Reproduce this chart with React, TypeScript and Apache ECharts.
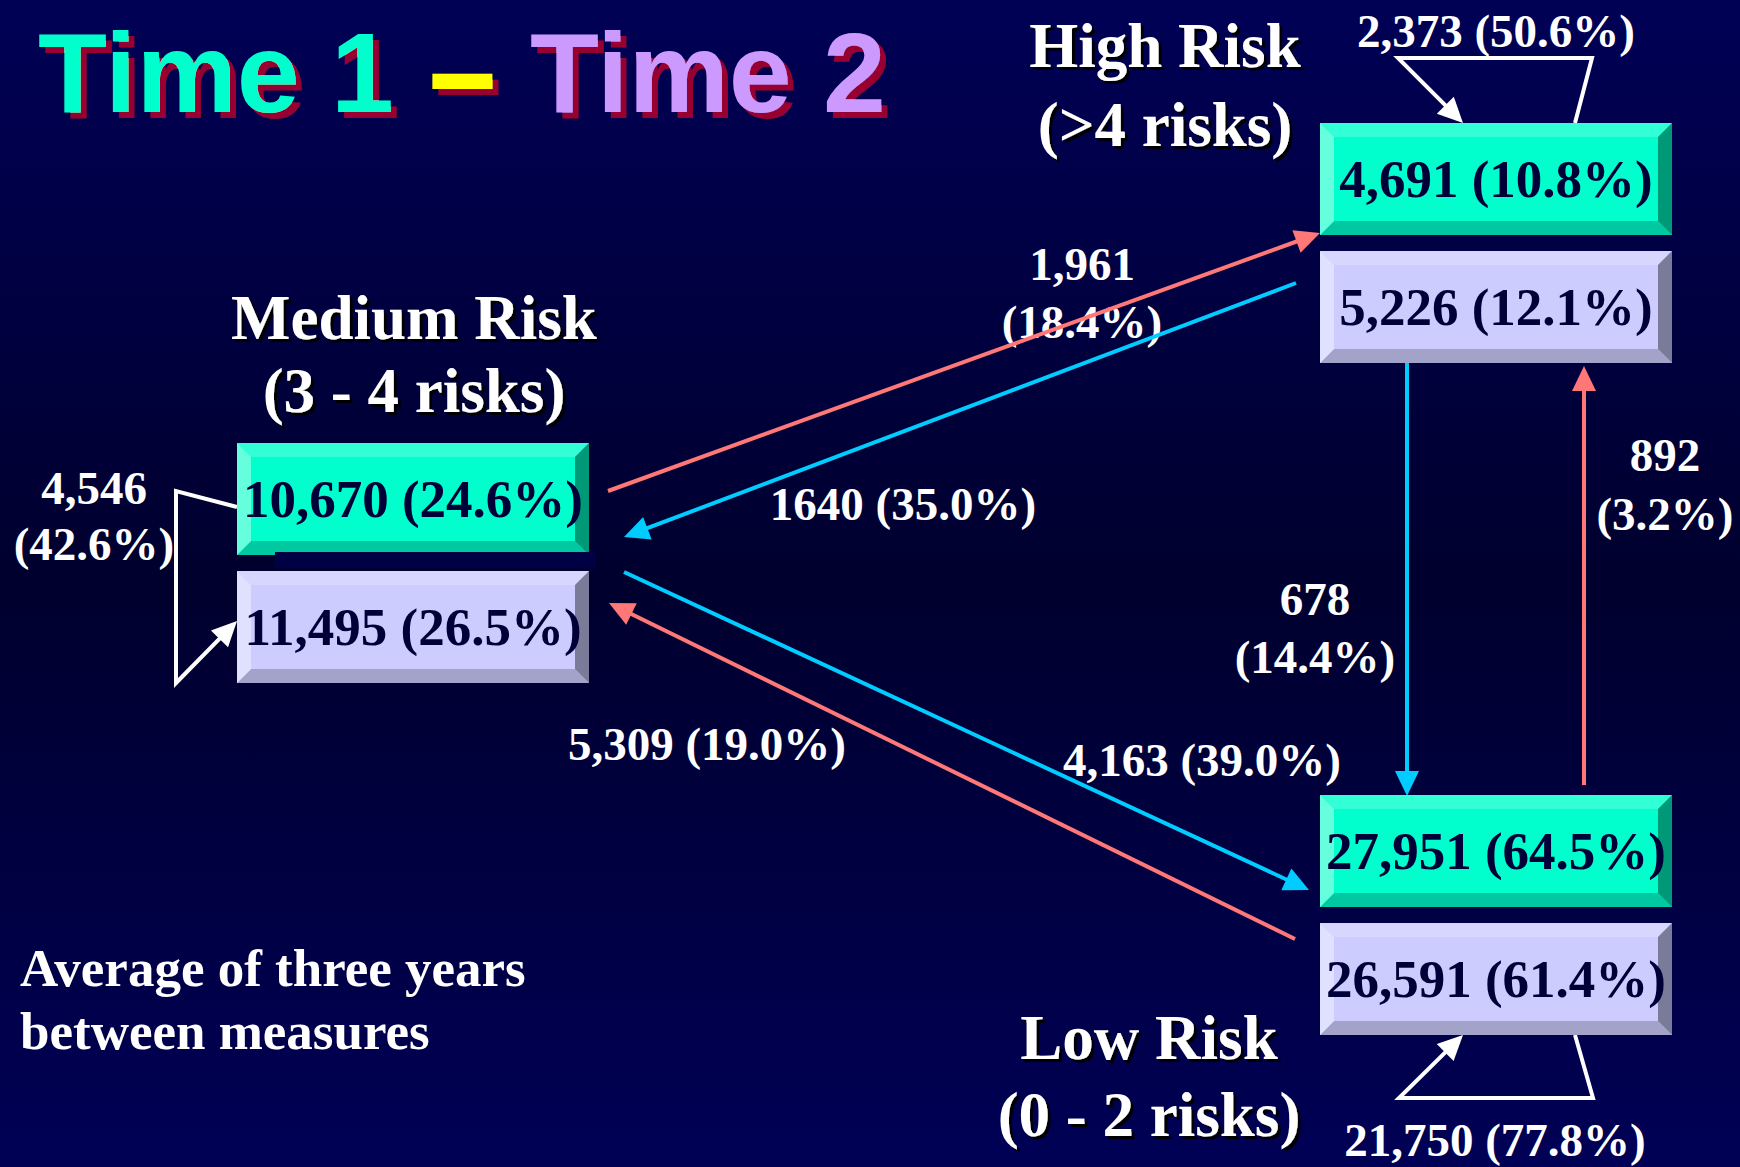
import React, { useEffect, useRef } from "react";
import * as echarts from "echarts";

const W = 1740;
const H = 1167;

// ---- data ----
const titleParts = ["Time 1", "–", "Time 2"];
const riskLevels = ["High Risk", "Medium Risk", "Low Risk"];
const riskRanges = ["(>4 risks)", "(3 - 4 risks)", "(0 - 2 risks)"];
const time1Counts = ["4,691 (10.8%)", "10,670 (24.6%)", "27,951 (64.5%)"];
const time2Counts = ["5,226 (12.1%)", "11,495 (26.5%)", "26,591 (61.4%)"];
const stayCounts = ["2,373", "4,546", "21,750"];
const stayPcts = ["(50.6%)", "(42.6%)", "(77.8%)"];
// transitions: med->high, high->med, med->low, low->med, high->low, low->high
const flowCounts = ["1,961", "1640", "4,163", "5,309", "678", "892"];
const flowPcts = ["(18.4%)", "(35.0%)", "(39.0%)", "(19.0%)", "(14.4%)", "(3.2%)"];
const noteLines = ["Average of three years", "between measures"];

const SERIF = '"Liberation Serif", "Times New Roman", serif';
const SANS = '"Liberation Sans", Arial, sans-serif';

const GREEN = { face: "#00FFCC", top: "#33FFD6", left: "#66FFDD", bottom: "#00C8A0", right: "#009977" };
const LAV = { face: "#CCCCFF", top: "#D6D6FF", left: "#E0E0FF", bottom: "#A3A3CA", right: "#7A7A99" };
const SALMON = "#FF7777";
const CYAN = "#00CCFF";
const WHITE = "#FFFFFF";

function bevelBox(x: number, y: number, w: number, h: number, b: number, c: any) {
  return [
    { type: "rect", shape: { x, y, width: w, height: h }, style: { fill: c.face } },
    { type: "polygon", shape: { points: [[x, y], [x + w, y], [x + w - b, y + b], [x + b, y + b]] }, style: { fill: c.top } },
    { type: "polygon", shape: { points: [[x, y + h], [x + w, y + h], [x + w - b, y + h - b], [x + b, y + h - b]] }, style: { fill: c.bottom } },
    { type: "polygon", shape: { points: [[x, y], [x + b, y + b], [x + b, y + h - b], [x, y + h]] }, style: { fill: c.left } },
    { type: "polygon", shape: { points: [[x + w, y], [x + w - b, y + b], [x + w - b, y + h - b], [x + w, y + h]] }, style: { fill: c.right } },
  ];
}

function arrow(pts: number[][], color: string, lw = 4, hl = 25, hw = 24) {
  const n = pts.length;
  const [px, py] = pts[n - 2];
  const [tx, ty] = pts[n - 1];
  const dx = tx - px, dy = ty - py;
  const len = Math.hypot(dx, dy);
  const ux = dx / len, uy = dy / len;
  const bx = tx - ux * hl, by = ty - uy * hl;
  const nx = -uy, ny = ux;
  const linePts = pts.slice(0, n - 1).concat([[bx + ux * 3, by + uy * 3]]);
  return [
    { type: "polyline", shape: { points: linePts }, style: { stroke: color, lineWidth: lw, fill: "none", lineJoin: "miter" } },
    {
      type: "polygon",
      shape: { points: [[tx, ty], [bx + (nx * hw) / 2, by + (ny * hw) / 2], [bx - (nx * hw) / 2, by - (ny * hw) / 2]] },
      style: { fill: color },
    },
  ];
}

function txt(text: string, x: number, y: number, size: number, opts: any = {}) {
  return {
    type: "text",
    x,
    y,
    style: {
      text,
      fill: opts.fill || WHITE,
      font: `bold ${size}px ${opts.family || SERIF}`,
      align: opts.align || "center",
      verticalAlign: "middle",
      ...(opts.border ? { stroke: opts.fill, lineWidth: opts.border, lineJoin: "miter" } : {}),
      ...(opts.shadow
        ? {
            textShadowColor: opts.shadow,
            textShadowOffsetX: opts.sx ?? 3,
            textShadowOffsetY: opts.sy ?? 3,
            textShadowBlur: opts.blur ?? 1,
          }
        : {}),
    },
  };
}

export default function App() {
  const ref = useRef<HTMLDivElement>(null);
  useEffect(() => {
    if (!ref.current) return;
    const chart = echarts.init(ref.current, null, { renderer: "svg", width: W, height: H });

    const boxX = [1320, 237, 1320];
    const boxY1 = [123, 443, 795];
    const boxY2 = [251, 571, 923];
    const BW = 352, BH = 112, BV = 14;

    const els: any[] = [];
    // background
    els.push({
      type: "rect",
      shape: { x: 0, y: 0, width: W, height: H },
      style: {
        fill: new echarts.graphic.LinearGradient(0, 0, 0, 1, [
          { offset: 0, color: "#000056" },
          { offset: 0.5, color: "#00002E" },
          { offset: 1, color: "#000056" },
        ]),
      },
    });

    // title
    const tShadow = { shadow: "#990033", sx: 6, sy: 6, blur: 1, family: SANS, align: "left" };
    els.push(txt(titleParts[0], 38, 73, 113, { ...tShadow, fill: "#00FFCC" }));
    els.push(txt(titleParts[1], 431, 73, 113, { ...tShadow, fill: "#FFFF00", border: 4 }));
    els.push(txt(titleParts[2], 530, 73, 113, { ...tShadow, fill: "#CC99FF" }));

    // risk labels
    const lvlPos = [[1165, 46, 125], [414, 318, 391], [1149, 1038, 1115]];
    for (let i = 0; i < 3; i++) {
      const [x, y1, y2] = lvlPos[i];
      els.push(txt(riskLevels[i], x, y1, 63, { shadow: "rgba(0,0,0,0.95)", sx: 3, sy: 3 }));
      els.push(txt(riskRanges[i], x, y2, 63, { shadow: "rgba(0,0,0,0.95)", sx: 3, sy: 3 }));
    }

    // note
    els.push(txt(noteLines[0], 20, 968, 53, { align: "left" }));
    els.push(txt(noteLines[1], 20, 1031, 53, { align: "left" }));

    // flow labels
    els.push(txt(`${stayCounts[0]} ${stayPcts[0]}`, 1496, 31, 47));
    els.push(txt(stayCounts[1], 94, 488, 47));
    els.push(txt(stayPcts[1], 94, 544, 47));
    els.push(txt(`${stayCounts[2]} ${stayPcts[2]}`, 1495, 1140, 47));
    els.push(txt(flowCounts[0], 1082, 264, 47));
    els.push(txt(flowPcts[0], 1082, 322, 47));
    els.push(txt(`${flowCounts[1]} ${flowPcts[1]}`, 903, 504, 47));
    els.push(txt(`${flowCounts[2]} ${flowPcts[2]}`, 1202, 760, 47));
    els.push(txt(`${flowCounts[3]} ${flowPcts[3]}`, 707, 744, 47));
    els.push(txt(flowCounts[4], 1315, 599, 47));
    els.push(txt(flowPcts[4], 1315, 657, 47));
    els.push(txt(flowCounts[5], 1665, 455, 47));
    els.push(txt(flowPcts[5], 1665, 514, 47));

    // arrows
    els.push(...arrow([[608, 491], [1320, 233]], SALMON));
    els.push(...arrow([[1296, 283], [624, 537]], CYAN));
    els.push(...arrow([[624, 572], [1309, 890]], CYAN));
    els.push(...arrow([[1295, 939], [609, 603]], SALMON));
    els.push(...arrow([[1407, 363], [1407, 796]], CYAN));
    els.push(...arrow([[1584, 785], [1584, 366]], SALMON));
    els.push(...arrow([[1575, 123], [1592, 58], [1398, 58], [1463, 123]], WHITE));
    els.push(...arrow([[1575, 1035], [1593, 1098], [1399, 1098], [1463, 1035]], WHITE));
    els.push(...arrow([[237, 507], [176, 491], [176, 683], [237, 621]], WHITE));

    // boxes
    for (let i = 0; i < 3; i++) {
      els.push(...bevelBox(boxX[i], boxY1[i], BW, BH, BV, GREEN));
      if (i === 1) {
        els.push({ type: "rect", shape: { x: 275, y: 552, width: 321, height: 16 }, style: { fill: "#000044" } });
      }
      els.push(...bevelBox(boxX[i], boxY2[i], BW, BH, BV, LAV));
      els.push(txt(time1Counts[i], boxX[i] + BW / 2, boxY1[i] + BH / 2, 53, { fill: "#000038" }));
      els.push(txt(time2Counts[i], boxX[i] + BW / 2, boxY2[i] + BH / 2, 53, { fill: "#000038" }));
    }

    chart.setOption({
      animation: false,
      backgroundColor: "#000040",
      graphic: { elements: els },
    });
    return () => chart.dispose();
  }, []);

  return (
    <div
      ref={ref}
      style={{ position: "fixed", left: 0, top: 0, width: W, height: H }}
    />
  );
}
